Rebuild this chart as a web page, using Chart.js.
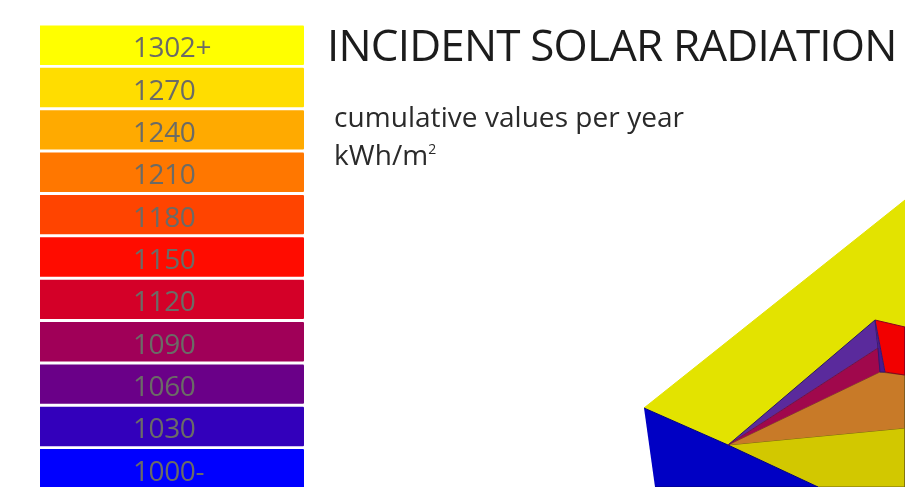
<!DOCTYPE html>
<html>
<head>
<meta charset="utf-8">
<title>Incident solar radiation</title>
<script src="https://cdn.jsdelivr.net/npm/chart.js@4"></script>
<style>
  html, body { margin: 0; width: 905px; height: 487px; overflow: hidden; background: #fff; }
  canvas { position: absolute; filter: blur(0.5px); }
  #legendChart { left: 40px; top: 24px; }
  #modelChart { left: 620px; top: 190px; }
  .txt { position: absolute; font-family: "Open Sans", sans-serif; white-space: nowrap; filter: blur(0.4px); }
  #title { left: 327px; top: 14px; font-size: 44px; line-height: 60px; color: #1c1c1c; letter-spacing: -0.82px; }
  #sub1 { left: 334px; top: 97px; font-size: 28px; line-height: 38px; color: #2a2a2a; letter-spacing: 0.05px; }
  #sub2 { left: 334px; top: 135px; font-size: 28px; line-height: 38px; color: #2a2a2a; letter-spacing: 0.05px; }
  #sub2 sup { font-size: 14px; line-height: 0; vertical-align: 11px; letter-spacing: 0; }
</style>
</head>
<body>
<canvas id="legendChart" width="264" height="466"></canvas>
<canvas id="modelChart" width="285" height="297"></canvas>
<div class="txt" id="title">INCIDENT SOLAR RADIATION</div>
<div class="txt" id="sub1">cumulative values per year</div>
<div class="txt" id="sub2">kWh/m<sup>2</sup></div>
<script>
// colour scale
const classLabels = ['1302+', '1270', '1240', '1210', '1180', '1150', '1120', '1090', '1060', '1030', '1000-'];
const classBars = [1, 1, 1, 1, 1, 1, 1, 1, 1, 1, 1];
const classColors = ['#ffff00', '#ffdd00', '#ffaa00', '#ff7700', '#ff4400', '#ff0c00', '#d40028', '#a00058', '#6a0088', '#3300bb', '#0000ff'];

// model faces, in picture pixels
const roofX = [644, 905, 905, 820, 728];
const roofY = [408, 200, 487, 487, 445];
const lowerX = [728, 905, 905, 818];
const lowerY = [445, 428, 487, 487];
const blueX = [644, 728, 818, 655];
const blueY = [408, 445, 487, 487];
const purpleX = [728, 875, 878];
const purpleY = [445, 320, 348];
const crimsonX = [728, 878, 880];
const crimsonY = [445, 348, 372];
const orangeX = [728, 880, 905, 905];
const orangeY = [445, 372, 375, 428];
const redX = [875, 905, 905, 885];
const redY = [320, 327, 375, 372];
const sliverX = [875, 885, 880, 878];
const sliverY = [320, 372, 372, 348];

const labelPlugin = {
  id: 'classText',
  afterDatasetsDraw(chart) {
    const ctx = chart.ctx;
    const y = chart.scales.y;
    ctx.save();
    ctx.font = '28px "Open Sans", sans-serif';
    ctx.letterSpacing = '-0.4px';
    ctx.fillStyle = '#6b6b66';
    ctx.textAlign = 'left';
    ctx.textBaseline = 'middle';
    classLabels.forEach((label, i) => {
      ctx.fillText(label, 93, y.getPixelForValue(i) + 4);
    });
    ctx.restore();
  }
};

new Chart(document.getElementById('legendChart'), {
  type: 'bar',
  data: {
    labels: classLabels,
    datasets: [{
      data: classBars,
      backgroundColor: classColors,
      barPercentage: 0.93,
      categoryPercentage: 1,
      borderRadius: 1
    }]
  },
  options: {
    indexAxis: 'y',
    responsive: false,
    animation: false,
    plugins: { legend: { display: false }, tooltip: { enabled: false } },
    scales: {
      x: { display: false, min: 0, max: 1 },
      y: { display: false }
    }
  },
  plugins: [labelPlugin]
});

function face(xs, ys, color, edge) {
  return {
    data: xs.map((x, i) => ({ x: x, y: ys[i] })),
    backgroundColor: color,
    borderColor: edge,
    borderWidth: 1,
    fill: 'shape',
    pointRadius: 0,
    tension: 0
  };
}

// the first dataset ends up on top, so the back faces come last
new Chart(document.getElementById('modelChart'), {
  type: 'line',
  data: {
    datasets: [
      face(sliverX, sliverY, '#4a1a90', '#3a1470'),
      face(crimsonX, crimsonY, '#a0084c', '#6a1050'),
      face(purpleX, purpleY, '#5a2a9c', '#2a1a60'),
      face(redX, redY, '#f20000', '#8a0020'),
      face(orangeX, orangeY, '#c87a28', '#7a5a20'),
      face(blueX, blueY, '#0000c4', '#00007a'),
      face(lowerX, lowerY, '#d2c800', '#7a6a10'),
      face(roofX, roofY, '#e3e300', '#e3e300')
    ]
  },
  options: {
    responsive: false,
    animation: false,
    plugins: { legend: { display: false }, tooltip: { enabled: false } },
    scales: {
      x: { type: 'linear', display: false, min: 620, max: 905 },
      y: { type: 'linear', display: false, min: 190, max: 487, reverse: true }
    }
  }
});
</script>
</body>
</html>
